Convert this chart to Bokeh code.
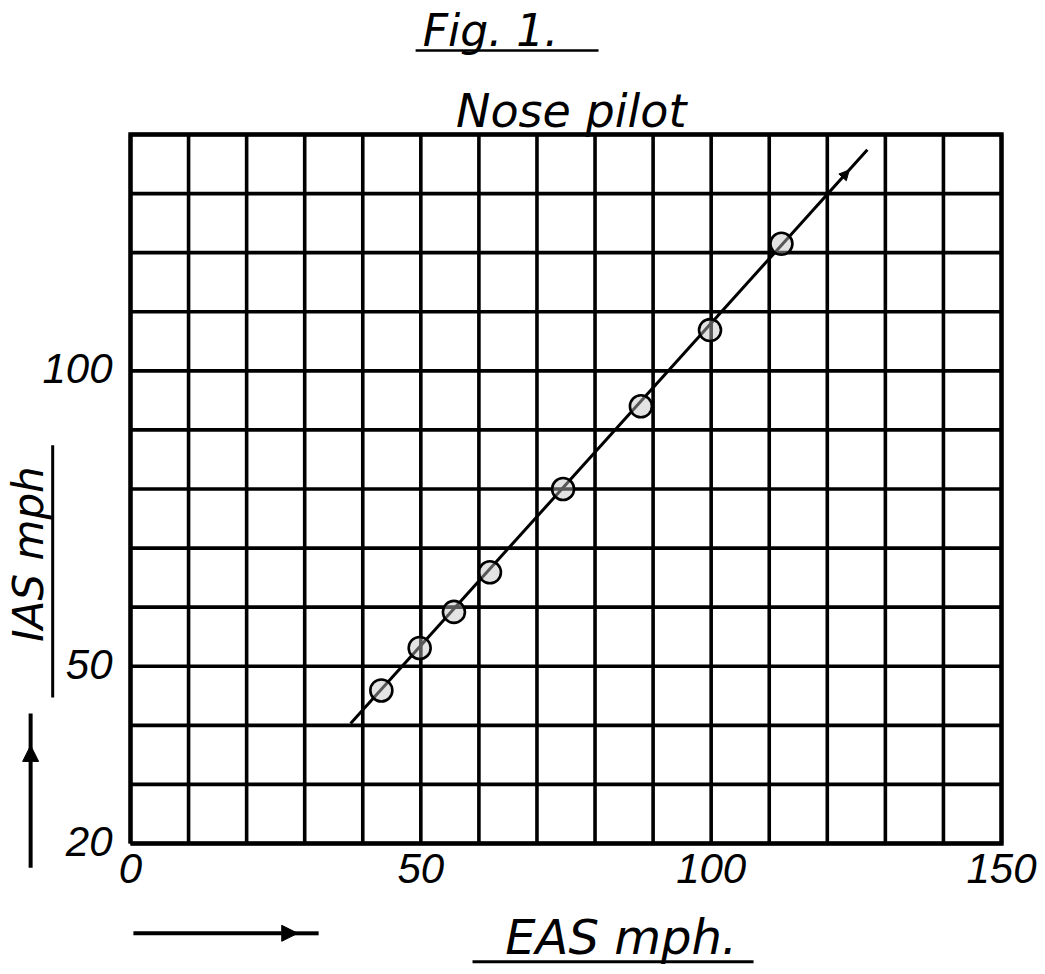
import math
from bokeh.plotting import figure
from bokeh.models import Range1d, Label, Arrow, NormalHead
from bokeh.core.properties import value
from bokeh.embed import file_html
from bokeh.resources import INLINE

# ---- data ----
eas = [43.2, 49.8, 55.7, 61.9, 74.5, 87.9, 99.8, 112.1]     # EAS mph (x)
ias = [45.9, 53.1, 59.2, 65.9, 80.0, 94.0, 106.9, 121.5]    # IAS mph (y)
fit_eas = [37.9, 126.9]
fit_ias = [40.3, 137.4]
x_ticks = [0, 50, 100, 150]
x_tick_labels = ["0", "50", "100", "150"]
y_ticks = [20, 50, 100]
y_tick_labels = ["20", "50", "100"]
x_grid = list(range(0, 151, 10))
y_grid = list(range(20, 141, 10))

title_text = "Fig. 1."
subtitle_text = "Nose pilot"
x_label = "EAS mph."
y_label = "IAS mph"

HAND = "DejaVu Sans"
DIG = "Liberation Sans"

W, H = 1040, 970
# grid box placed at pixels 130..1001 (x) and 134..843 (y) of the canvas
px_per_x = 871 / 150.0
px_per_y = 709 / 120.0
x0 = -130 / px_per_x
x1 = x0 + W / px_per_x
y_top = 20 + 843 / px_per_y
y_bot = 20 - (H - 843) / px_per_y

p = figure(width=W, height=H, min_border=0,
           x_range=Range1d(x0, x1), y_range=Range1d(y_bot, y_top),
           output_backend="svg", toolbar_location=None,
           background_fill_color="white", border_fill_color="white")
p.axis.visible = False
p.grid.visible = False
p.outline_line_color = None

gx0, gx1 = min(x_grid), max(x_grid)
gy0, gy1 = min(y_grid), max(y_grid)

# grid (hand-drawn graph paper)
p.segment(x0=x_grid, y0=[gy0] * len(x_grid), x1=x_grid, y1=[gy1] * len(x_grid),
          line_color="black", line_width=3.6)
p.segment(x0=[gx0] * len(y_grid), y0=y_grid, x1=[gx1] * len(y_grid), y1=y_grid,
          line_color="black", line_width=3.6)
# heavier frame
p.multi_line(xs=[[gx0, gx1, gx1, gx0, gx0]], ys=[[gy0, gy0, gy1, gy1, gy0]],
             line_color="black", line_width=4.4, line_join="miter")

# tick labels
p.text(x=x_ticks, y=[gy0] * len(x_ticks), text=x_tick_labels,
       text_font=value(DIG), text_font_style="italic", text_font_size="42px",
       text_align="center", text_baseline="top", y_offset=10, text_color="black")
p.text(x=[gx0] * len(y_ticks), y=y_ticks, text=y_tick_labels,
       text_font=value(DIG), text_font_style="italic", text_font_size="42px",
       text_align="right", text_baseline="middle", x_offset=-18, y_offset=-2,
       text_color="black")

# fitted line
p.line(fit_eas, fit_ias, line_color="black", line_width=3)
# small arrow mark on the line near its upper end
f0, f1 = 0.90, 0.965
ax0 = fit_eas[0] + f0 * (fit_eas[1] - fit_eas[0])
ay0 = fit_ias[0] + f0 * (fit_ias[1] - fit_ias[0])
ax1 = fit_eas[0] + f1 * (fit_eas[1] - fit_eas[0])
ay1 = fit_ias[0] + f1 * (fit_ias[1] - fit_ias[0])
p.add_layout(Arrow(x_start=ax0, y_start=ay0, x_end=ax1, y_end=ay1,
                   line_color="black", line_width=2,
                   end=NormalHead(size=10, fill_color="black", line_color="black")))

# measured points
p.scatter(eas, ias, marker="circle", size=22, fill_color="#c0c0c0", fill_alpha=0.45,
          line_color="black", line_width=2.6)

# ---- texts ----
p.add_layout(Label(x=62.0, y=157.6, text=title_text, text_font=HAND,
                   text_font_style="italic", text_font_size="44px",
                   text_align="center", text_baseline="alphabetic", text_color="black"))
p.add_layout(Arrow(x_start=49.1, y_start=154.2, x_end=80.6, y_end=154.2,
                   end=None, line_color="black", line_width=2.5))

p.add_layout(Label(x=75.9, y=144.0, text=subtitle_text, text_font=HAND,
                   text_font_style="italic", text_font_size="46px",
                   text_align="center", text_baseline="alphabetic", text_color="black"))

p.add_layout(Label(x=84.5, y=4.1, text=x_label, text_font=HAND,
                   text_font_style="italic", text_font_size="48px",
                   text_align="center", text_baseline="alphabetic", text_color="black"))
p.add_layout(Arrow(x_start=58.9, y_start=0.0, x_end=107.3, y_end=0.0,
                   end=None, line_color="black", line_width=3))

p.add_layout(Label(x=-17.6, y=69.0, text=y_label, text_font=HAND, angle=math.pi / 2,
                   text_font_style="italic", text_font_size="42px",
                   text_align="center", text_baseline="alphabetic", text_color="black"))
p.add_layout(Arrow(x_start=-13.4, y_start=44.7, x_end=-13.4, y_end=87.4,
                   end=None, line_color="black", line_width=3))

# direction arrows
p.add_layout(Arrow(x_start=0.5, y_start=4.8, x_end=28.8, y_end=4.8,
                   line_color="black", line_width=4,
                   end=NormalHead(size=16, fill_color="black", line_color="black")))
p.add_layout(Arrow(x_start=28.0, y_start=4.8, x_end=32.4, y_end=4.8,
                   end=None, line_color="black", line_width=4))
p.add_layout(Arrow(x_start=-17.2, y_start=15.9, x_end=-17.2, y_end=36.6,
                   line_color="black", line_width=4,
                   end=NormalHead(size=16, fill_color="black", line_color="black")))
p.add_layout(Arrow(x_start=-17.2, y_start=36.0, x_end=-17.2, y_end=42.0,
                   end=None, line_color="black", line_width=4))

open("out.html", "w").write(file_html(p, INLINE))
